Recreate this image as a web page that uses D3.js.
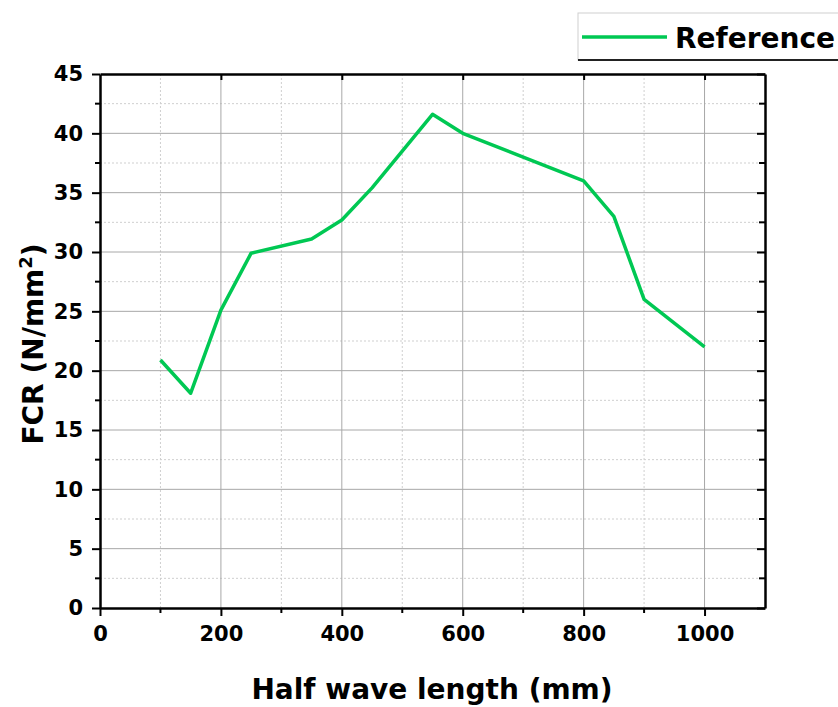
<!DOCTYPE html>
<html>
<head>
<meta charset="utf-8">
<script src="https://cdn.jsdelivr.net/npm/d3@7"></script>
<style>
  body { margin: 0; background: #fff; }
  text { font-family: "DejaVu Sans", sans-serif; font-weight: bold; }
</style>
</head>
<body>
<script>
// data
let halfWave = [100, 150, 200, 250, 350, 400, 450, 550, 600, 700, 800, 850, 900, 1000];
let fcr      = [20.9, 18.1, 25.1, 29.9, 31.1, 32.7, 35.4, 41.6, 40.0, 38.0, 36.0, 33.0, 26.0, 22.0];
let xTicks   = [0, 200, 400, 600, 800, 1000];
let yTicks   = [0, 5, 10, 15, 20, 25, 30, 35, 40, 45];
let seriesName = "Reference";

let w = 838, h = 707;
let pLeft = 100, pRight = 765, pTop = 74, pBottom = 608;

let svg = d3.select("body").append("svg")
    .attr("width", w)
    .attr("height", h);

let x = d3.scaleLinear().domain([0, 1100]).range([pLeft, pRight]);
let y = d3.scaleLinear().domain([0, 45]).range([pBottom, pTop]);

let xMinor = d3.range(100, 1100, 200);
let yMinor = d3.range(2.5, 45, 5);

// grid: dotted minor lines first, solid major on top
let grid = svg.append("g");
grid.selectAll(".vminor").data(xMinor).enter().append("line")
    .attr("x1", d => x(d)).attr("x2", d => x(d))
    .attr("y1", pTop).attr("y2", pBottom)
    .attr("stroke", "#cfcfcf").attr("stroke-dasharray", "2,2");
grid.selectAll(".hminor").data(yMinor).enter().append("line")
    .attr("x1", pLeft).attr("x2", pRight)
    .attr("y1", d => y(d)).attr("y2", d => y(d))
    .attr("stroke", "#cfcfcf").attr("stroke-dasharray", "2,2");
grid.selectAll(".vmajor").data(xTicks.slice(1)).enter().append("line")
    .attr("x1", d => x(d)).attr("x2", d => x(d))
    .attr("y1", pTop).attr("y2", pBottom)
    .attr("stroke", "#a8a8a8");
grid.selectAll(".hmajor").data(yTicks.slice(1, -1)).enter().append("line")
    .attr("x1", pLeft).attr("x2", pRight)
    .attr("y1", d => y(d)).attr("y2", d => y(d))
    .attr("stroke", "#a8a8a8");

// the series
svg.append("path")
    .datum(halfWave.map((d, i) => [d, fcr[i]]))
    .attr("fill", "none")
    .attr("stroke", "#00c853")
    .attr("stroke-width", 3.5)
    .attr("stroke-linejoin", "round")
    .attr("d", d3.line().x(d => x(d[0])).y(d => y(d[1])));

// axes - bottom and left with labels, top and right as frame
let bottomAxis = svg.append("g")
    .attr("transform", `translate(0,${pBottom})`)
    .call(d3.axisBottom(x).tickValues(xTicks).tickFormat(d3.format("d"))
        .tickSize(8).tickSizeOuter(0).tickPadding(10));
bottomAxis.append("g").selectAll("line").data(xMinor).enter().append("line")
    .attr("x1", d => x(d)).attr("x2", d => x(d))
    .attr("y1", 0).attr("y2", 5).attr("stroke", "#000").attr("stroke-width", 2);

let leftAxis = svg.append("g")
    .attr("transform", `translate(${pLeft},0)`)
    .call(d3.axisLeft(y).tickValues(yTicks).tickSize(8).tickSizeOuter(0).tickPadding(9));
leftAxis.append("g").selectAll("line").data(yMinor).enter().append("line")
    .attr("y1", d => y(d)).attr("y2", d => y(d))
    .attr("x1", 0).attr("x2", -5).attr("stroke", "#000").attr("stroke-width", 2);

svg.append("g")
    .attr("transform", `translate(0,${pTop})`)
    .call(d3.axisTop(x).tickValues(xTicks.slice(1)).tickSize(-6).tickSizeOuter(0).tickFormat(""));

let rightAxis = svg.append("g")
    .attr("transform", `translate(${pRight},0)`)
    .call(d3.axisRight(y).tickValues(yTicks).tickSize(-8).tickSizeOuter(0).tickFormat(""));
rightAxis.append("g").selectAll("line").data(yMinor).enter().append("line")
    .attr("y1", d => y(d)).attr("y2", d => y(d))
    .attr("x1", 0).attr("x2", -6).attr("stroke", "#000").attr("stroke-width", 2);

svg.selectAll(".domain").attr("stroke", "#000").attr("stroke-width", 2.5);
svg.selectAll(".tick line").attr("stroke", "#000").attr("stroke-width", 2);
svg.selectAll(".tick text")
    .attr("font-size", 21)
    .attr("font-family", "'DejaVu Sans', sans-serif")
    .attr("font-weight", "bold")
    .attr("fill", "#000");

// axis titles
svg.append("text")
    .attr("x", 432).attr("y", 699)
    .attr("text-anchor", "middle")
    .attr("font-size", 28)
    .text("Half wave length (mm)");

let yt = svg.append("text")
    .attr("transform", `translate(43,${(pTop + pBottom) / 2 + 3}) rotate(-90)`)
    .attr("text-anchor", "middle")
    .attr("font-size", 28);
yt.append("tspan").text("FCR (N/mm");
yt.append("tspan").attr("font-size", 18).attr("dy", -11).text("2");
yt.append("tspan").attr("dy", 11).text(")");

// legend
let lg = svg.append("g");
lg.append("rect")
    .attr("x", 578).attr("y", 13).attr("width", 280).attr("height", 47)
    .attr("fill", "#fff").attr("stroke", "#d0d0d0");
lg.append("line")
    .attr("x1", 578).attr("x2", 838).attr("y1", 60).attr("y2", 60)
    .attr("stroke", "#222").attr("stroke-width", 2);
lg.append("line")
    .attr("x1", 582).attr("x2", 667).attr("y1", 37).attr("y2", 37)
    .attr("stroke", "#00c853").attr("stroke-width", 3.5);
lg.append("text")
    .attr("x", 675).attr("y", 48)
    .attr("font-size", 28)
    .text(seriesName);
</script>
</body>
</html>
